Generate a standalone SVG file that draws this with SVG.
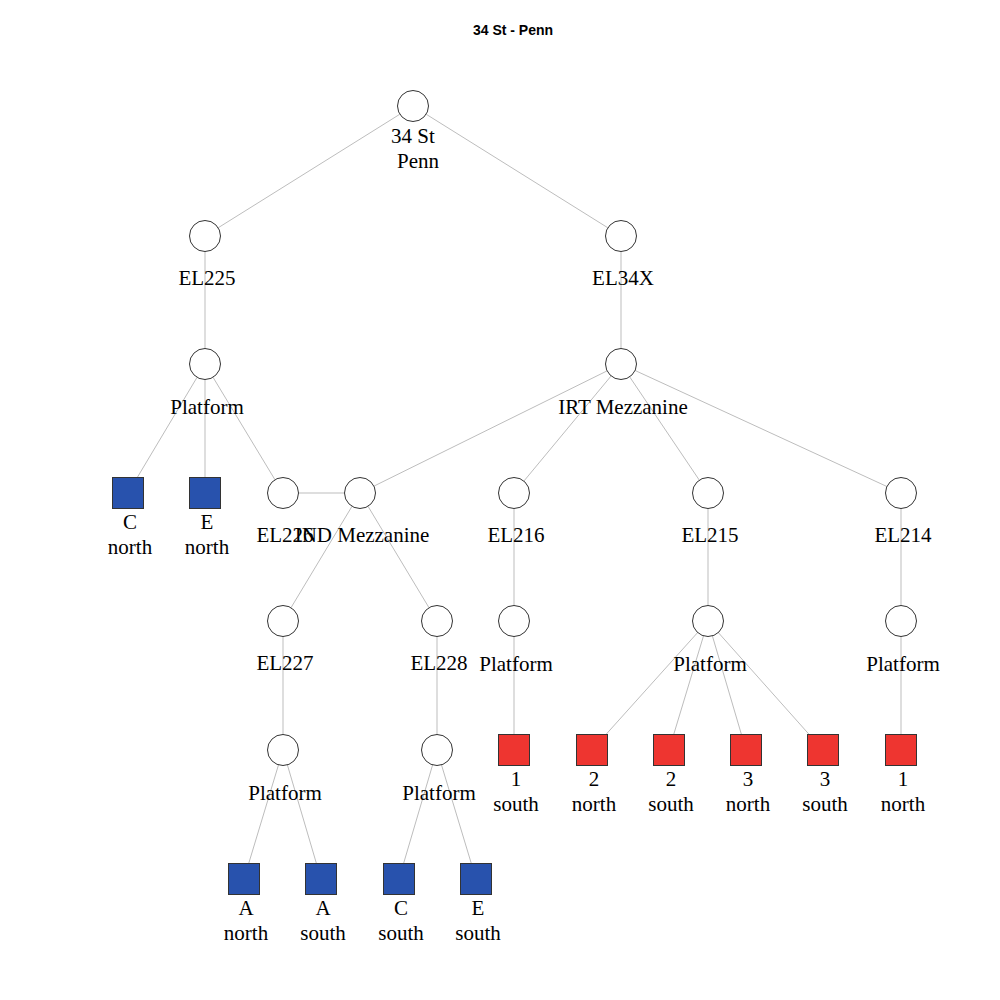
<svg xmlns="http://www.w3.org/2000/svg" width="1000" height="1000" viewBox="0 0 1000 1000">
<style>
.e{stroke:#bdbdbd;stroke-width:1;fill:none}
.c{fill:#fff;stroke:#333;stroke-width:1}
.b{fill:#2852ad;stroke:#333;stroke-width:1}
.r{fill:#ee3530;stroke:#333;stroke-width:1}
text{font-family:"Liberation Serif","Times New Roman",serif;font-size:21px;fill:#000;text-anchor:middle}
.t{font-family:"Liberation Sans",Arial,sans-serif;font-size:14px;font-weight:bold}
</style>
<rect width="1000" height="1000" fill="#fff"/>
<text class="t" x="513" y="35">34 St - Penn</text>
<g id="edges">
<line class="e" x1="413" y1="106" x2="205" y2="236"/>
<line class="e" x1="413" y1="106" x2="621" y2="236"/>
<line class="e" x1="205" y1="236" x2="205" y2="364"/>
<line class="e" x1="621" y1="236" x2="621" y2="364"/>
<line class="e" x1="205" y1="364" x2="128" y2="493"/>
<line class="e" x1="205" y1="364" x2="205" y2="493"/>
<line class="e" x1="205" y1="364" x2="283" y2="493"/>
<line class="e" x1="283" y1="493" x2="360" y2="493"/>
<line class="e" x1="621" y1="364" x2="360" y2="493"/>
<line class="e" x1="621" y1="364" x2="514" y2="493"/>
<line class="e" x1="621" y1="364" x2="708" y2="493"/>
<line class="e" x1="621" y1="364" x2="901" y2="493"/>
<line class="e" x1="360" y1="493" x2="283" y2="621"/>
<line class="e" x1="360" y1="493" x2="437" y2="621"/>
<line class="e" x1="514" y1="493" x2="514" y2="621"/>
<line class="e" x1="708" y1="493" x2="708" y2="621"/>
<line class="e" x1="901" y1="493" x2="901" y2="621"/>
<line class="e" x1="283" y1="621" x2="283" y2="750"/>
<line class="e" x1="437" y1="621" x2="437" y2="750"/>
<line class="e" x1="514" y1="621" x2="514" y2="750"/>
<line class="e" x1="708" y1="621" x2="592" y2="750"/>
<line class="e" x1="708" y1="621" x2="669" y2="750"/>
<line class="e" x1="708" y1="621" x2="746" y2="750"/>
<line class="e" x1="708" y1="621" x2="823" y2="750"/>
<line class="e" x1="901" y1="621" x2="901" y2="750"/>
<line class="e" x1="283" y1="750" x2="244" y2="879"/>
<line class="e" x1="283" y1="750" x2="321" y2="879"/>
<line class="e" x1="437" y1="750" x2="399" y2="879"/>
<line class="e" x1="437" y1="750" x2="476" y2="879"/>
</g>
<g id="root"><circle class="c" cx="413" cy="106" r="15.5"/><text x="413" y="143">34 St</text><text x="418" y="168">Penn</text></g>
<g id="el225"><circle class="c" cx="205" cy="236" r="15.5"/><text x="207" y="285">EL225</text></g>
<g id="el34x"><circle class="c" cx="621" cy="236" r="15.5"/><text x="623" y="285">EL34X</text></g>
<g id="plat225"><circle class="c" cx="205" cy="364" r="15.5"/><text x="207" y="414">Platform</text></g>
<g id="irt"><circle class="c" cx="621" cy="364" r="15.5"/><text x="623" y="414">IRT Mezzanine</text></g>
<g id="cnorth"><rect class="b" x="112.5" y="477.5" width="31" height="31"/><text x="130" y="529">C</text><text x="130" y="554">north</text></g>
<g id="enorth"><rect class="b" x="189.5" y="477.5" width="31" height="31"/><text x="207" y="529">E</text><text x="207" y="554">north</text></g>
<g id="el226"><circle class="c" cx="283" cy="493" r="15.5"/><text x="285" y="542">EL226</text></g>
<g id="ind"><circle class="c" cx="360" cy="493" r="15.5"/><text x="362" y="542">IND Mezzanine</text></g>
<g id="el216"><circle class="c" cx="514" cy="493" r="15.5"/><text x="516" y="542">EL216</text></g>
<g id="el215"><circle class="c" cx="708" cy="493" r="15.5"/><text x="710" y="542">EL215</text></g>
<g id="el214"><circle class="c" cx="901" cy="493" r="15.5"/><text x="903" y="542">EL214</text></g>
<g id="el227"><circle class="c" cx="283" cy="621" r="15.5"/><text x="285" y="670">EL227</text></g>
<g id="el228"><circle class="c" cx="437" cy="621" r="15.5"/><text x="439" y="670">EL228</text></g>
<g id="plat216"><circle class="c" cx="514" cy="621" r="15.5"/><text x="516" y="671">Platform</text></g>
<g id="plat215"><circle class="c" cx="708" cy="621" r="15.5"/><text x="710" y="671">Platform</text></g>
<g id="plat214"><circle class="c" cx="901" cy="621" r="15.5"/><text x="903" y="671">Platform</text></g>
<g id="plat227"><circle class="c" cx="283" cy="750" r="15.5"/><text x="285" y="800">Platform</text></g>
<g id="plat228"><circle class="c" cx="437" cy="750" r="15.5"/><text x="439" y="800">Platform</text></g>
<g id="s1south"><rect class="r" x="498.5" y="734.5" width="31" height="31"/><text x="516" y="786">1</text><text x="516" y="811">south</text></g>
<g id="s2north"><rect class="r" x="576.5" y="734.5" width="31" height="31"/><text x="594" y="786">2</text><text x="594" y="811">north</text></g>
<g id="s2south"><rect class="r" x="653.5" y="734.5" width="31" height="31"/><text x="671" y="786">2</text><text x="671" y="811">south</text></g>
<g id="s3north"><rect class="r" x="730.5" y="734.5" width="31" height="31"/><text x="748" y="786">3</text><text x="748" y="811">north</text></g>
<g id="s3south"><rect class="r" x="807.5" y="734.5" width="31" height="31"/><text x="825" y="786">3</text><text x="825" y="811">south</text></g>
<g id="s1north"><rect class="r" x="885.5" y="734.5" width="31" height="31"/><text x="903" y="786">1</text><text x="903" y="811">north</text></g>
<g id="anorth"><rect class="b" x="228.5" y="863.5" width="31" height="31"/><text x="246" y="915">A</text><text x="246" y="940">north</text></g>
<g id="asouth"><rect class="b" x="305.5" y="863.5" width="31" height="31"/><text x="323" y="915">A</text><text x="323" y="940">south</text></g>
<g id="csouth"><rect class="b" x="383.5" y="863.5" width="31" height="31"/><text x="401" y="915">C</text><text x="401" y="940">south</text></g>
<g id="esouth"><rect class="b" x="460.5" y="863.5" width="31" height="31"/><text x="478" y="915">E</text><text x="478" y="940">south</text></g>
</svg>
